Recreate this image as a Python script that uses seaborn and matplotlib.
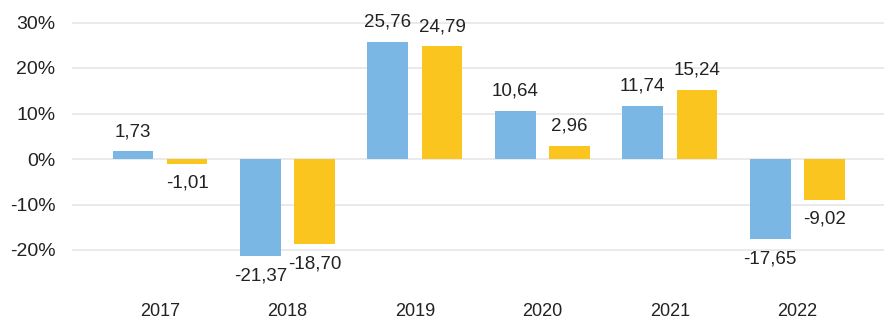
import matplotlib
matplotlib.use("Agg")
import matplotlib.pyplot as plt
import seaborn as sns
import pandas as pd

years = ["2017", "2018", "2019", "2020", "2021", "2022"]
series_a = [1.73, -21.37, 25.76, 10.64, 11.74, -17.65]
series_b = [-1.01, -18.70, 24.79, 2.96, 15.24, -9.02]
series_names = ["A", "B"]
y_ticks = [-20, -10, 0, 10, 20, 30]

df = pd.DataFrame({
    "year": years * 2,
    "value": series_a + series_b,
    "series": [series_names[0]] * len(years) + [series_names[1]] * len(years),
})

sns.set_theme(style="white")
plt.rcParams["font.family"] = ["Liberation Sans", "DejaVu Sans"]
text_color = "#222222"

fig = plt.figure(figsize=(8.84, 3.2), dpi=100)
# axes spans y from -29 to 31 (%)
top_px, bottom_px = 17.95, 290.95
ax = fig.add_axes([72 / 884, (320 - bottom_px) / 320, 812 / 884, (bottom_px - top_px) / 320])

palette = {series_names[0]: "#7BB7E5", series_names[1]: "#FBC520"}
sns.barplot(data=df, x="year", y="value", hue="series", palette=palette,
            width=0.85, gap=0.25, legend=False, ax=ax, saturation=1,
            linewidth=0, errorbar=None)

ax.set_ylim(-29, 31)
ax.set_xlim(-0.69, 5.68)
ax.set_yticks(y_ticks)
ax.set_yticklabels([f"{t}%" for t in y_ticks], fontsize=14, color=text_color)
ax.tick_params(axis="x", labelsize=13, colors=text_color, length=0, pad=9)
ax.tick_params(axis="y", length=0, pad=12)
ax.set_xlabel("")
ax.set_ylabel("")
for s in ax.spines.values():
    s.set_visible(False)
ax.yaxis.grid(True, color="#E4E4E4", linewidth=1.1)
ax.set_axisbelow(True)

for container in ax.containers:
    for bar in container:
        v = bar.get_height()
        x = bar.get_x() + bar.get_width() / 2
        txt = f"{v:.2f}".replace(".", ",")
        dy = 14 if v >= 0 else -14
        ax.annotate(txt, (x, v), xytext=(0, dy), textcoords="offset points",
                    ha="center", va="center", fontsize=13.5, color=text_color)

fig.savefig("out.png", dpi=100)
